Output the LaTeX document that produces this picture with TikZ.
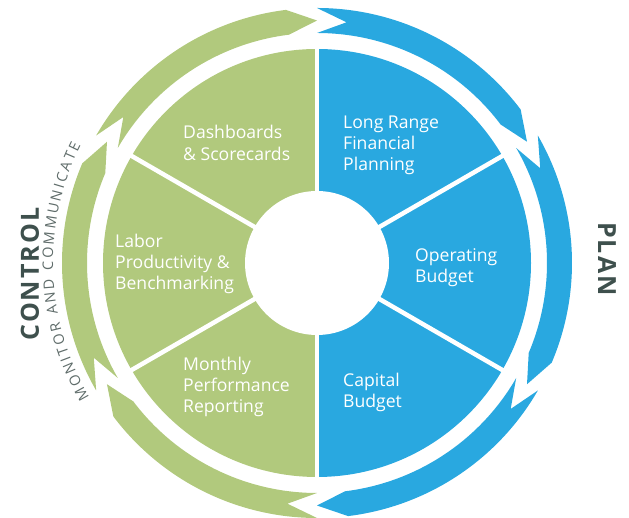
\documentclass[tikz,border=0pt]{standalone}
\usepackage{fontspec}
\setmainfont{Open Sans}
\usetikzlibrary{decorations.text}

\definecolor{leafgreen}{RGB}{177,201,125}
\definecolor{skyblue}{RGB}{41,168,224}
\definecolor{slate}{RGB}{62,80,77}
\definecolor{mutedgray}{RGB}{95,108,106}
\newcommand{\monitorfont}{\fontsize{14.5}{14.5}\selectfont}

\begin{document}
\begin{tikzpicture}[x=1pt,y=1pt,
  sector/.style={white,align=left,anchor=west,inner sep=0pt,font=\fontsize{17.6}{21.3}\selectfont},
  stage/.style={slate,inner sep=0pt,font=\fontsize{25}{25}\selectfont\bfseries\addfontfeature{LetterSpace=8}}]
\useasboundingbox (0,0) rectangle (629,518);
\def\cx{317}
\def\cy{255}
\def\rin{72}
\def\rpie{214}
\def\rcut{220}
\def\ra{230}
\def\rb{255}
\def\rc{242.5}
\def\tip{7}

% pie
\begin{scope}[shift={(\cx,\cy)}]
\fill[leafgreen] (90:\rpie) arc[start angle=90,end angle=270,radius=\rpie] -- cycle;
\fill[skyblue] (-90:\rpie) arc[start angle=-90,end angle=90,radius=\rpie] -- cycle;
\foreach \ang in {30,150,210,330}
  \draw[white,line width=4.5] (0,0) -- (\ang:\rcut);
\draw[white,line width=4] (90:\rcut) -- (270:\rcut);
\fill[white] (0,0) circle (\rin);

% ring of arrows, clockwise
\foreach \a/\b/\col in {270/210/leafgreen,210/150/leafgreen,150/90/leafgreen,
                        90/30/skyblue,30/-30/skyblue,-30/-90/skyblue}
  \fill[\col] (\a:\rb) arc[start angle=\a,end angle=\b+\tip,radius=\rb]
    -- (\b:\rc) -- (\b+\tip:\ra) arc[start angle=\b+\tip,end angle=\a,radius=\ra]
    -- (\a-\tip:\rc) -- cycle;
\end{scope}

\node[sector] (dash) at (183,375) {Dashboards\\\& Scorecards};
\node[sector] (longrange) at (343,372.5) {Long Range\\Financial\\Planning};
\node[sector] (operating) at (415,250.5) {Operating\\Budget};
\node[sector] (capital) at (343,125.5) {Capital\\Budget};
\node[sector] (monthly) at (183,131) {Monthly\\Performance\\Reporting};
\node[sector] (labor) at (115,254) {Labor\\Productivity \&\\Benchmarking};

\node[stage,rotate=90] (control) at (30,244) {CONTROL};
\node[stage,rotate=-90] (plan) at (607,259) {PLAN};

\path[decorate,decoration={text along path,text align=fit to path,
  text={|\monitorfont\color{mutedgray}|MONITOR AND COMMUNICATE}}]
  (\cx,\cy) ++(210.5:264) arc[start angle=210.5,end angle=153.5,radius=264];
\end{tikzpicture}
\end{document}
